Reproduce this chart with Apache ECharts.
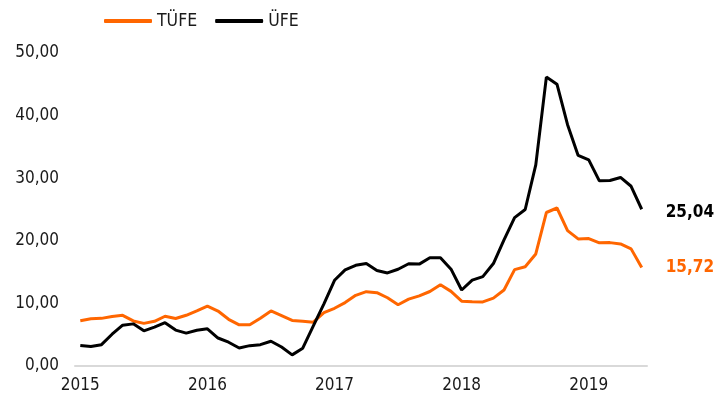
<!DOCTYPE html>
<html>
<head>
<meta charset="utf-8">
<script src="https://cdn.jsdelivr.net/npm/echarts@6/dist/echarts.min.js"></script>
<style>
html,body{margin:0;padding:0;background:#fff;}
#chart{width:719px;height:405px;}
</style>
</head>
<body>
<div id="chart"></div>
<script>
const months = [
  "2015-01","2015-02","2015-03","2015-04","2015-05","2015-06","2015-07","2015-08","2015-09","2015-10","2015-11","2015-12",
  "2016-01","2016-02","2016-03","2016-04","2016-05","2016-06","2016-07","2016-08","2016-09","2016-10","2016-11","2016-12",
  "2017-01","2017-02","2017-03","2017-04","2017-05","2017-06","2017-07","2017-08","2017-09","2017-10","2017-11","2017-12",
  "2018-01","2018-02","2018-03","2018-04","2018-05","2018-06","2018-07","2018-08","2018-09","2018-10","2018-11","2018-12",
  "2019-01","2019-02","2019-03","2019-04","2019-05","2019-06"
];
const tufe = [
  7.24,7.55,7.61,7.91,8.09,7.20,6.81,7.14,7.95,7.58,8.10,8.81,
  9.58,8.78,7.46,6.57,6.58,7.64,8.79,8.05,7.28,7.16,7.00,8.53,
  9.22,10.13,11.29,11.87,11.72,10.90,9.79,10.68,11.20,11.90,12.98,11.92,
  10.35,10.26,10.23,10.85,12.15,15.39,15.85,17.90,24.52,25.24,21.62,20.30,
  20.35,19.67,19.71,19.50,18.71,15.72
];
const ufe = [
  3.28,3.10,3.41,5.08,6.52,6.73,5.62,6.21,6.92,5.74,5.25,5.71,
  5.94,4.47,3.80,2.87,3.25,3.41,3.96,3.03,1.78,2.84,6.41,9.94,
  13.69,15.36,16.09,16.37,15.26,14.87,15.45,16.34,16.28,17.28,17.30,15.47,
  12.14,13.71,14.28,16.37,20.16,23.71,25.00,32.13,46.15,45.01,38.54,33.64,
  32.93,29.58,29.64,30.12,28.71,25.04
];
const yTicks = { min: 0, max: 50, interval: 10 };

const FONT = "'DejaVu Sans Condensed', 'DejaVu Sans', sans-serif";
const ORANGE = '#FF6600';
const BLACK = '#000000';
const fmt = v => v.toFixed(2).replace('.', ',');

const chart = echarts.init(document.getElementById('chart'), null, {renderer: 'canvas'});
chart.setOption({
  animation: false,
  backgroundColor: '#fff',
  textStyle: { fontFamily: FONT },
  legend: {
    left: 99, top: 7,
    itemWidth: 48, itemHeight: 4, itemGap: 18,
    icon: 'roundRect',
    textStyle: { fontFamily: FONT, fontSize: 17.5, color: '#1a1a1a' },
    data: ['TÜFE', 'ÜFE']
  },
  grid: { left: 75, right: 72, top: 53, bottom: 39, containLabel: false },
  xAxis: {
    type: 'category',
    data: months,
    boundaryGap: true,
    axisLine: { show: true, lineStyle: { color: '#d9d9d9', width: 2 } },
    axisTick: { show: false },
    axisLabel: {
      interval: 11, margin: 11,
      fontFamily: FONT, fontSize: 17, color: '#1a1a1a',
      formatter: v => v.slice(0, 4)
    },
    splitLine: { show: false }
  },
  yAxis: {
    type: 'value',
    min: yTicks.min, max: yTicks.max, interval: yTicks.interval,
    axisLine: { show: false },
    axisTick: { show: false },
    splitLine: { show: false },
    axisLabel: {
      margin: 16,
      fontFamily: FONT, fontSize: 17, color: '#1a1a1a',
      formatter: v => fmt(v)
    }
  },
  series: [
    {
      name: 'TÜFE', type: 'line', data: tufe,
      symbol: 'none', smooth: false,
      lineStyle: { color: ORANGE, width: 3 },
      itemStyle: { color: ORANGE },
      endLabel: {
        show: true, distance: 24,
        formatter: p => fmt(p.value),
        fontFamily: FONT, fontSize: 17, fontWeight: 'bold', color: ORANGE
      }
    },
    {
      name: 'ÜFE', type: 'line', data: ufe,
      symbol: 'none', smooth: false,
      lineStyle: { color: BLACK, width: 3 },
      itemStyle: { color: BLACK },
      endLabel: {
        show: true, distance: 24, offset: [0, 3],
        formatter: p => fmt(p.value),
        fontFamily: FONT, fontSize: 17, fontWeight: 'bold', color: BLACK
      }
    }
  ]
});
</script>
</body>
</html>
